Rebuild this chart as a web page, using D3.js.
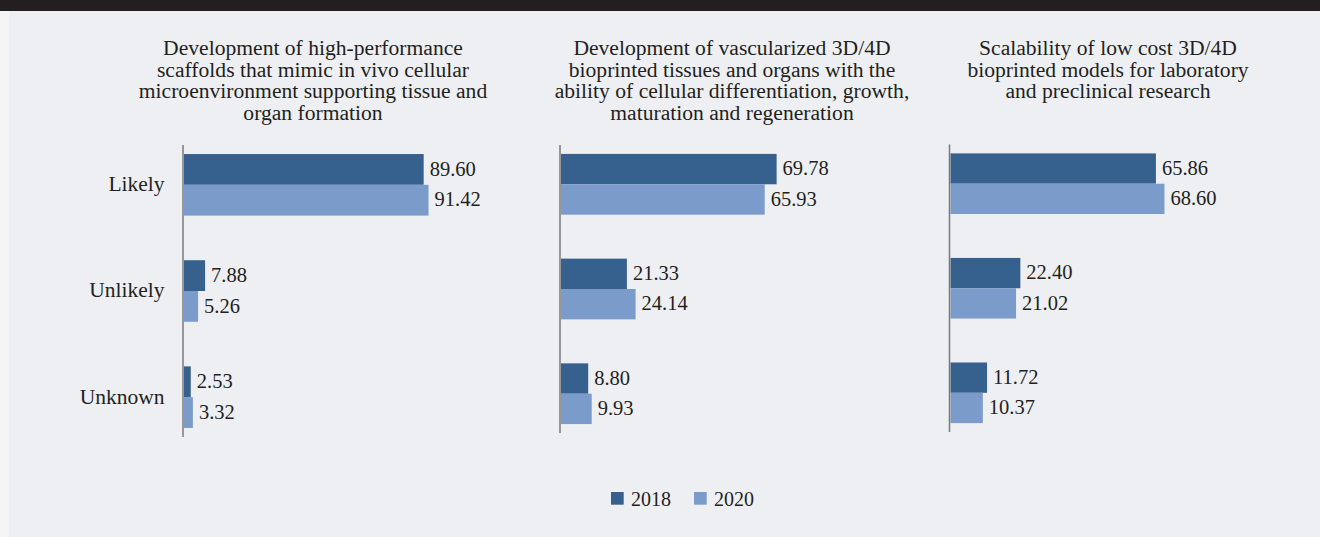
<!DOCTYPE html>
<html>
<head>
<meta charset="utf-8">
<script src="https://cdn.jsdelivr.net/npm/d3@7/dist/d3.min.js"></script>
<style>
  html, body { margin: 0; padding: 0; background: #eeeff3; }
  svg { display: block; }
  text { font-family: "Liberation Serif", "Times New Roman", serif; fill: #231f20; }
</style>
</head>
<body>
<svg id="chart" width="1320" height="537"></svg>
<script>
// Survey outcomes by area (percent of respondents)
const categories = ["Likely", "Unlikely", "Unknown"];
const years = ["2018", "2020"];
const panelTitles = [
  ["Development of high-performance", "scaffolds that mimic in vivo cellular", "microenvironment supporting tissue and", "organ formation"],
  ["Development of vascularized 3D/4D", "bioprinted tissues and organs with the", "ability of cellular differentiation, growth,", "maturation and regeneration"],
  ["Scalability of low cost 3D/4D", "bioprinted models for laboratory", "and preclinical research"]
];
const values2018 = [
  [89.60, 7.88, 2.53],
  [69.78, 21.33, 8.80],
  [65.86, 22.40, 11.72]
];
const values2020 = [
  [91.42, 5.26, 3.32],
  [65.93, 24.14, 9.93],
  [68.60, 21.02, 10.37]
];
const axisMax = [100, 80, 80];

const colors = { "2018": "#36618f", "2020": "#7b9bcb" };

// panel geometry
const layout = [
  { x0: 184,   x1: 451.5,  y0: 145,   y1: 437, titleX: 313 },
  { x0: 561,   x1: 808.2,  y0: 145,   y1: 433, titleX: 732 },
  { x0: 950.5, x1: 1200,   y0: 144.5, y1: 432, titleX: 1108 }
];

const svg = d3.select("#chart");

// page frame
svg.append("rect").attr("x", 0).attr("y", 0).attr("width", 1320).attr("height", 537).attr("fill", "#eeeff3");
svg.append("rect").attr("x", 0).attr("y", 0).attr("width", 9).attr("height", 537).attr("fill", "#f5f5f7");
svg.append("rect").attr("x", 0).attr("y", 0).attr("width", 1320).attr("height", 11).attr("fill", "#231f20");

const fmt = d3.format(".2f");

layout.forEach((L, p) => {
  const g = svg.append("g");

  // title
  const title = g.append("text")
    .attr("x", L.titleX)
    .attr("y", 55)
    .attr("text-anchor", "middle")
    .style("font-size", "21.6px");
  panelTitles[p].forEach((line, i) => {
    title.append("tspan").attr("x", L.titleX).attr("y", 55 + i * 21.5).text(line);
  });

  const x = d3.scaleLinear().domain([0, axisMax[p]]).range([L.x0, L.x1]);
  const y = d3.scaleBand().domain(categories).range([L.y0, L.y1])
    .paddingInner(0.42).paddingOuter(0.085);
  const ySub = d3.scaleBand().domain(years).range([0, y.bandwidth()]);

  const rows = categories.map((c, i) => ({
    cat: c,
    vals: [
      { year: "2018", v: values2018[p][i] },
      { year: "2020", v: values2020[p][i] }
    ]
  }));

  const grp = g.selectAll("g.cat").data(rows).join("g")
    .attr("class", "cat")
    .attr("transform", d => `translate(0,${y(d.cat)})`);

  grp.selectAll("rect").data(d => d.vals).join("rect")
    .attr("x", x(0))
    .attr("y", d => ySub(d.year))
    .attr("height", ySub.bandwidth())
    .attr("width", d => x(d.v) - x(0))
    .attr("fill", d => colors[d.year]);

  grp.selectAll("text.val").data(d => d.vals).join("text")
    .attr("class", "val")
    .attr("x", d => x(d.v) + 6)
    .attr("y", d => ySub(d.year) + ySub.bandwidth() / 2)
    .attr("dy", "0.3em")
    .style("font-size", "20.5px")
    .text(d => fmt(d.v));

  // category axis
  g.append("line")
    .attr("x1", x(0) - 1).attr("x2", x(0) - 1)
    .attr("y1", L.y0).attr("y2", L.y1)
    .attr("stroke", "#7a7a7a").attr("stroke-width", 1.5);

  if (p === 0) {
    g.selectAll("text.cat").data(categories).join("text")
      .attr("class", "cat")
      .attr("x", 164.5)
      .attr("y", d => y(d) + y.bandwidth() / 2)
      .attr("dy", "0.3em")
      .attr("text-anchor", "end")
      .style("font-size", "21.5px")
      .text(d => d);
  }
});

// legend
const legend = svg.append("g");
const legendX = [611, 694];
years.forEach((yr, i) => {
  legend.append("rect")
    .attr("x", legendX[i]).attr("y", 492)
    .attr("width", 12.7).attr("height", 12.7)
    .attr("fill", colors[yr]);
  legend.append("text")
    .attr("x", legendX[i] + 20).attr("y", 506)
    .style("font-size", "20px")
    .text(yr);
});
</script>
</body>
</html>
